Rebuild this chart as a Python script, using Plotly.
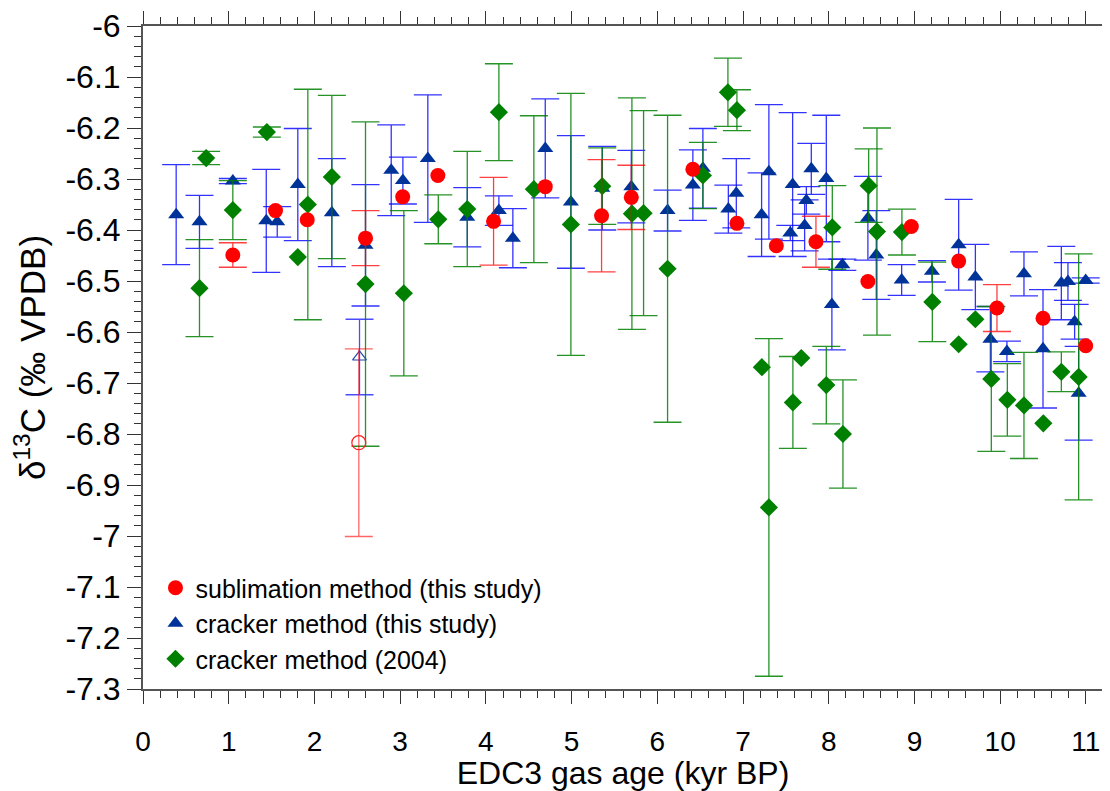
import plotly.graph_objects as go

# ---------------- data ----------------
# sublimation method (this study)
sub_x = [1.048, 1.546, 1.916, 2.596, 3.03, 3.44, 4.09, 4.693, 5.35, 5.697,
         6.415, 6.929, 7.389, 7.851, 8.457, 8.964, 9.516, 9.963, 10.50, 10.998]
sub_y = [-6.449, -6.362, -6.380, -6.416, -6.335, -6.293, -6.383, -6.315, -6.372, -6.336,
         -6.281, -6.387, -6.431, -6.423, -6.501, -6.393, -6.461, -6.553, -6.573, -6.627]
sub_e = [0.024, 0, 0, 0.054, 0, 0, 0.086, 0, 0.11, 0.063,
         0, 0, 0, 0.05, 0, 0, 0, 0.046, 0, 0]

# cracker method (this study)
crk_x = [0.387, 0.659, 1.048, 1.438, 1.566, 1.806, 2.203, 2.596, 2.896, 3.032,
         3.323, 3.783, 4.152, 4.315, 4.693, 4.992, 5.358, 5.697, 6.12, 6.415,
         6.532, 6.829, 6.922, 7.217, 7.302, 7.579, 7.552, 7.739, 7.719, 7.797,
         7.972, 8.159, 8.037, 8.457, 8.555, 8.851, 9.204, 9.516, 9.711, 9.886,
         10.079, 10.278, 10.50, 10.714, 10.791, 10.869, 10.998, 10.916]
crk_y = [-6.370, -6.384, -6.304, -6.382, -6.384, -6.311, -6.366, -6.430, -6.283, -6.303,
         -6.260, -6.375, -6.362, -6.416, -6.240, -6.345, -6.318, -6.315, -6.362, -6.312,
         -6.279, -6.359, -6.328, -6.370, -6.286, -6.311, -6.406, -6.342, -6.391, -6.280,
         -6.299, -6.468, -6.546, -6.377, -6.449, -6.498, -6.481, -6.429, -6.492, -6.614,
         -6.638, -6.486, -6.633, -6.504, -6.501, -6.580, -6.499, -6.720]
crk_e = [0.098, 0.052, 0.005, 0.101, 0.030, 0.110, 0.106, 0.119, 0.089, 0.046,
         0.125, 0.058, 0.029, 0.058, 0.097, 0.130, 0.082, 0.071, 0.040, 0.069,
         0.078, 0.047, 0.068, 0.082, 0.132, 0.141, 0.015, 0.027, 0.05, 0.050,
         0.124, 0.011, 0.089, 0.082, 0.087, 0.030, 0.021, 0.089, 0.064, 0.064,
         0.020, 0.043, 0.116, 0.072, 0.037, 0.034, 0.005, 0.092]

# cracker method (2004)
old_x = [0.737, 0.659, 1.048, 1.445, 1.806, 1.923, 2.203, 2.596, 3.043, 3.445,
         3.783, 4.152, 4.560, 4.992, 5.358, 5.704, 5.84, 6.12, 6.532, 6.824,
         6.929, 7.22, 7.302, 7.582, 7.68, 7.972, 8.042, 8.166, 8.466, 8.563,
         8.854, 9.209, 9.516, 9.711, 9.897, 10.084, 10.278, 10.504, 10.714, 10.916]
old_y = [-6.259, -6.514, -6.361, -6.208, -6.453, -6.350, -6.296, -6.506, -6.524, -6.379,
         -6.359, -6.169, -6.320, -6.389, -6.314, -6.368, -6.367, -6.476, -6.293, -6.130,
         -6.165, -6.669, -6.944, -6.738, -6.651, -6.704, -6.395, -6.800, -6.313, -6.403,
         -6.404, -6.541, -6.624, -6.575, -6.692, -6.733, -6.744, -6.779, -6.678, -6.688]
old_e = [0.013, 0.095, 0.058, 0.010, 0, 0.226, 0.160, 0.318, 0.162, 0.048,
         0.113, 0.095, 0.144, 0.257, 0.075, 0.227, 0.201, 0.301, 0.065, 0.067,
         0.040, 0, 0.331, 0.090, 0, 0.076, 0.082, 0.106, 0.072, 0.203,
         0.045, 0.078, 0, 0, 0.142, 0.071, 0.104, 0, 0.039, 0.241]

# outliers (open symbols)
sub_open_x = [2.518]
sub_open_y = [-6.817]
sub_open_e = [0.184]
crk_open_x = [2.526]
crk_open_y = [-6.649]
crk_open_e = [0.074]

x_ticks = [0, 1, 2, 3, 4, 5, 6, 7, 8, 9, 10, 11]
x_labels = ["0", "1", "2", "3", "4", "5", "6", "7", "8", "9", "10", "11"]
y_ticks = [-6, -6.1, -6.2, -6.3, -6.4, -6.5, -6.6, -6.7, -6.8, -6.9, -7, -7.1, -7.2, -7.3]
y_labels = ["-6", "-6.1", "-6.2", "-6.3", "-6.4", "-6.5", "-6.6", "-6.7", "-6.8", "-6.9",
            "-7", "-7.1", "-7.2", "-7.3"]

FONT = "Liberation Sans, Arial, sans-serif"


def split(x, y, e):
    wx, wy, we, nx, ny = [], [], [], [], []
    for a, b, c in zip(x, y, e):
        if c > 0:
            wx.append(a); wy.append(b); we.append(c)
        else:
            nx.append(a); ny.append(b)
    return wx, wy, we, nx, ny


fig = go.Figure()


def add_series(x, y, e, name, symbol, color, size, barcolor, rank):
    wx, wy, we, nx, ny = split(x, y, e)
    fig.add_trace(go.Scatter(
        x=wx, y=wy, mode="markers", name=name, legendgroup=name, legendrank=rank,
        marker=dict(symbol=symbol, color=color, size=size, line=dict(width=0)),
        error_y=dict(type="data", array=we, visible=True, color=barcolor,
                     thickness=1.3, width=14),
    ))
    if nx:
        fig.add_trace(go.Scatter(
            x=nx, y=ny, mode="markers", name=name, legendgroup=name, showlegend=False,
            marker=dict(symbol=symbol, color=color, size=size, line=dict(width=0)),
        ))


# draw order: blue, green, red (red on top)
add_series(crk_x, crk_y, crk_e, "cracker method (this study)", "triangle-up",
           "#003399", 14, "rgba(0,0,255,0.8)", 2)
fig.add_trace(go.Scatter(
    x=crk_open_x, y=crk_open_y, mode="markers", showlegend=False,
    marker=dict(symbol="triangle-up-open", color="#2244aa", size=12, line=dict(width=1.2)),
    error_y=dict(type="data", array=crk_open_e, color="rgba(0,0,255,0.7)", thickness=1.3, width=14),
))
add_series(old_x, old_y, old_e, "cracker method (2004)", "diamond",
           "#008000", 14, "rgba(0,128,0,0.85)", 3)
add_series(sub_x, sub_y, sub_e, "sublimation method (this study)", "circle",
           "#ff0000", 15, "rgba(255,0,0,0.75)", 1)
fig.add_trace(go.Scatter(
    x=sub_open_x, y=sub_open_y, mode="markers", showlegend=False,
    marker=dict(symbol="circle-open", color="#ff2020", size=14, line=dict(width=1.2)),
    error_y=dict(type="data", array=sub_open_e, color="rgba(255,0,0,0.6)", thickness=1.3, width=14),
))

axis_common = dict(
    showline=True, linecolor="#555555", linewidth=2, mirror="allticks",
    ticks="outside", tickcolor="#333333", tickwidth=1,
    showgrid=False, zeroline=False, automargin=False,
)

fig.update_xaxes(
    **axis_common, range=[0, 11.2], tickmode="array", tickvals=x_ticks, ticktext=x_labels,
    ticklen=13, ticklabelstandoff=13,
    tickfont=dict(family=FONT, size=28, color="#000000"),
    minor=dict(tickmode="linear", tick0=0, dtick=0.2, ticks="outside", ticklen=7,
               tickcolor="#333333", tickwidth=1, showgrid=False),
    title=dict(text="EDC3 gas age (kyr BP)", font=dict(family=FONT, size=32, color="#000000"),
               standoff=3),
)
fig.update_yaxes(
    **axis_common, range=[-7.3, -6], tickmode="array", tickvals=y_ticks, ticktext=y_labels,
    ticklen=14, ticklabelstandoff=0,
    tickfont=dict(family=FONT, size=32, color="#000000"),
    minor=dict(tickmode="linear", tick0=-6, dtick=0.02, ticks="outside", ticklen=7,
               tickcolor="#333333", tickwidth=1, showgrid=False),
    title=dict(text="δ<sup>13</sup>C (‰ VPDB)", font=dict(family=FONT, size=35, color="#000000"),
               standoff=23),
)

# the page body adds an 8 px offset, so the figure is 8 px smaller than the window
fig.update_layout(
    width=1102, height=783,
    margin=dict(l=135, r=7, t=18, b=102),
    plot_bgcolor="white", paper_bgcolor="white",
    showlegend=True,
    legend=dict(x=0.013, y=0.187, xanchor="left", yanchor="top",
                bgcolor="rgba(0,0,0,0)", borderwidth=0,
                font=dict(family=FONT, size=25, color="#000000"),
                tracegroupgap=0, itemsizing="trace"),
)

fig.write_html("out.html")
